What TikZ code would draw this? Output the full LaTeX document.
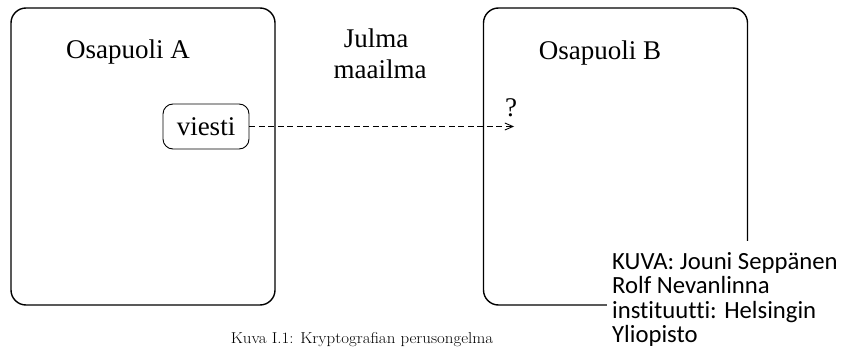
\documentclass[tikz,border=0pt]{standalone}
\usepackage{fontspec}
\newfontfamily\timesf{Liberation Serif}
\newfontfamily\calib[Ligatures=NoCommon]{Carlito}
\usetikzlibrary{arrows.meta}
\begin{document}
\begin{tikzpicture}[x=1pt,y=-1pt,
  party/.style={draw, line width=1.4pt, rounded corners=15pt, minimum width=264pt, minimum height=297pt, inner sep=0pt},
  label/.style={font=\timesf\fontsize{27}{31}\selectfont, anchor=base, inner sep=0pt},
  msg/.style={draw, line width=0.9pt, rounded corners=10pt, minimum width=86pt, minimum height=45pt, inner sep=0pt, font=\timesf\fontsize{27}{31}\selectfont},
  flow/.style={dashed, dash pattern=on 6pt off 3.5pt, line width=0.9pt, -{Straight Barb[length=8pt,width=7pt]}},
  credit/.style={fill=white, anchor=north west, align=left, inner xsep=5pt, inner ysep=11pt, font=\calib\fontsize{24.7}{24.5}\selectfont},
  caption/.style={font=\fontsize{15.8}{18}\selectfont, anchor=base, inner sep=0pt}]
\useasboundingbox (0,0) rectangle (842,358);
\node[party] (boxA) at (143,156.5) {};
\node[party] (boxB) at (615.5,156.5) {};
\node[label] (nameA) at (128,59) {Osapuoli A};
\node[label] (nameB) at (600,60) {Osapuoli B};
\node[label] (julma) at (376,48) {Julma};
\node[label] (maailma) at (380,79) {maailma};
\node[msg] (viesti) at (206,126.5) {viesti};
\coordinate (dest) at (514,126.5);
\draw[flow] (viesti.east) -- (dest);
\node[label] (q) at (511,117) {?};
\node[caption] (cap) at (362,343) {\scalebox{1.07}[1]{Kuva I.1: Kryptografian perusongelma}};
\node[credit] (src) at (607,241) {KUVA: Jouni Seppänen\\Rolf Nevanlinna\\instituutti: Helsingin\\Yliopisto};
\end{tikzpicture}
\end{document}
